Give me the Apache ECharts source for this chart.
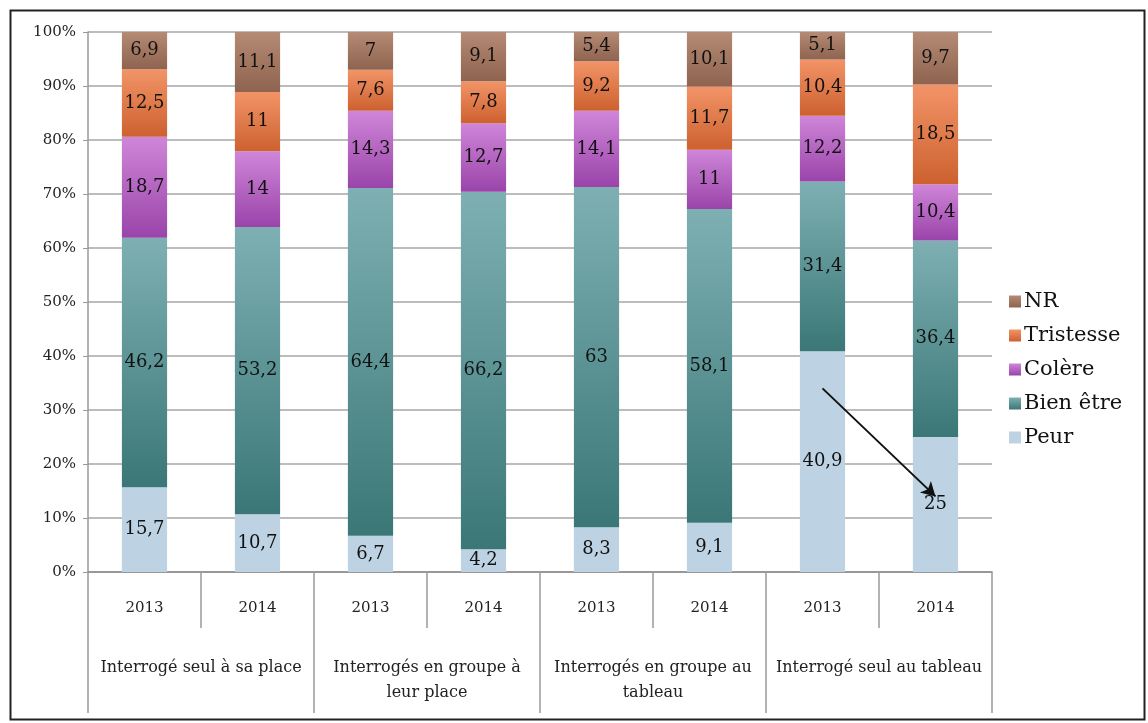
<!DOCTYPE html>
<html>
<head>
<meta charset="utf-8">
<script src="https://cdn.jsdelivr.net/npm/echarts@6/dist/echarts.min.js"></script>
<style>
  html, body { margin: 0; padding: 0; background: #fff; }
  #chart { width: 1148px; height: 723px; }
</style>
</head>
<body>
<div id="chart"></div>
<script>
// données (%)
var years = ['2013', '2014', '2013', '2014', '2013', '2014', '2013', '2014']
var groups = [
  'Interrogé seul à sa place',
  'Interrogés en groupe à\nleur place',
  'Interrogés en groupe au\ntableau',
  'Interrogé seul au tableau'
]
var yTicks = ['0%', '10%', '20%', '30%', '40%', '50%', '60%', '70%', '80%', '90%', '100%']

var peur = [15.7, 10.7, 6.7, 4.2, 8.3, 9.1, 40.9, 25]
var bienEtre = [46.2, 53.2, 64.4, 66.2, 63, 58.1, 31.4, 36.4]
var colere = [18.7, 14, 14.3, 12.7, 14.1, 11, 12.2, 10.4]
var tristesse = [12.5, 11, 7.6, 7.8, 9.2, 11.7, 10.4, 18.5]
var nr = [6.9, 11.1, 7, 9.1, 5.4, 10.1, 5.1, 9.7]

// flèche 2013 -> 2014 (interrogé seul au tableau)
var arrowFrom = [6, 34]
var arrowTo = [7, 14]

var font = "'DejaVu Serif', Georgia, serif"

function grad(top, bottom) {
  return new echarts.graphic.LinearGradient(0, 0, 0, 1, [
    { offset: 0, color: top },
    { offset: 1, color: bottom }
  ])
}

function makeSeries(name, data, top, bottom, extra) {
  var s = {
    name: name,
    type: 'bar',
    stack: 'total',
    xAxisIndex: 0,
    barWidth: '40%',
    data: data,
    itemStyle: { color: top === bottom ? top : grad(top, bottom) },
    label: {
      show: true,
      position: 'inside',
      color: '#111',
      fontFamily: font,
      fontSize: 18,
      formatter: function(p) { return String(p.value).replace('.', ',') }
    },
    emphasis: { disabled: true }
  }
  if (extra) Object.assign(s, extra)
  return s
}

var chart = echarts.init(document.getElementById('chart'))

chart.setOption({
  animation: false,
  textStyle: { fontFamily: font },
  graphic: [{
    type: 'rect',
    left: 8, top: 8,
    shape: { width: 1134, height: 709 },
    style: { fill: 'none', stroke: '#222', lineWidth: 2 },
    silent: true
  }],
  grid: { left: 88, right: 156, top: 32, bottom: 151 },
  legend: {
    orient: 'vertical',
    left: 1004,
    top: 286,
    itemWidth: 12,
    itemHeight: 12,
    itemGap: 13,
    icon: 'rect',
    data: ['NR', 'Tristesse', 'Colère', 'Bien être', 'Peur'],
    textStyle: { fontFamily: font, fontSize: 21, color: '#111', padding: [0, 0, 0, -2] }
  },
  xAxis: [{
    type: 'category',
    data: years,
    axisLine: { show: true, lineStyle: { color: '#8c8c8c', width: 1.5 } },
    axisTick: { show: true, length: 56, interval: 0, lineStyle: { color: '#9a9a9a', width: 1.5 } },
    axisLabel: { interval: 0, margin: 29, fontSize: 15, color: '#222', fontFamily: font }
  }, {
    type: 'category',
    data: groups,
    position: 'bottom',
    axisLine: { show: false },
    axisTick: { show: true, length: 141, interval: 0, lineStyle: { color: '#9a9a9a', width: 1.5 } },
    axisLabel: { interval: 0, margin: 83, fontSize: 16, lineHeight: 25, color: '#222', fontFamily: font, align: 'center' }
  }],
  yAxis: {
    type: 'value',
    min: 0,
    max: 100,
    interval: 10,
    axisLine: { show: true, lineStyle: { color: '#9a9a9a', width: 1.5 } },
    axisTick: { show: true, length: 5, lineStyle: { color: '#9a9a9a' } },
    splitLine: { lineStyle: { color: '#a6a6a6', width: 1.5 } },
    axisLabel: {
      fontSize: 15, color: '#222', fontFamily: font, margin: 12,
      formatter: function(v) { return yTicks[Math.round(v / 10)] }
    }
  },
  series: [
    makeSeries('Peur', peur, '#bdd3e3', '#bdd3e3', {
      markLine: {
        silent: true,
        symbol: ['none', 'arrow'],
        symbolSize: [12, 14],
        label: { show: false },
        lineStyle: { color: '#111', width: 2, type: 'solid' },
        data: [[{ coord: arrowFrom }, { coord: arrowTo }]]
      }
    }),
    makeSeries('Bien être', bienEtre, '#7eb0b3', '#3b7777'),
    makeSeries('Colère', colere, '#cf86d8', '#9a44aa'),
    makeSeries('Tristesse', tristesse, '#f29468', '#cd612f'),
    makeSeries('NR', nr, '#b68b75', '#8e634f')
  ]
})
</script>
</body>
</html>
